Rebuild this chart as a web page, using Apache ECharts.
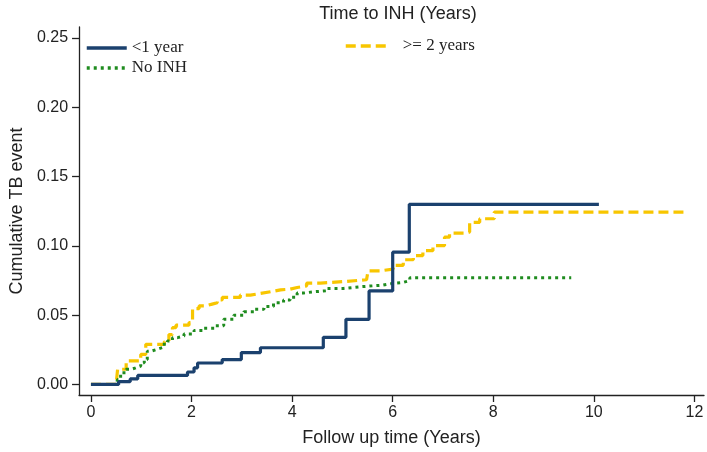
<!DOCTYPE html>
<html>
<head>
<meta charset="utf-8">
<script src="https://cdn.jsdelivr.net/npm/echarts@6/dist/echarts.min.js"></script>
<style>html,body{margin:0;padding:0;background:#fff}#c{width:707px;height:452px}</style>
</head>
<body>
<div id="c"></div>
<script>
// Series names
const seriesNames = ['<1 year', 'No INH', '>= 2 years'];
// Tick labels
const xTicks = [0, 2, 4, 6, 8, 10, 12];
const yTicks = [0, 0.05, 0.10, 0.15, 0.20, 0.25];
// Kaplan-Meier style cumulative incidence: [time (years), cumulative event]
const lessThan1Year = [
  [0, 0], [0.55, 0.002], [0.78, 0.004], [0.93, 0.0065], [1.92, 0.009], [2.05, 0.012],
  [2.12, 0.0155], [2.61, 0.018], [2.99, 0.023], [3.37, 0.0265], [4.62, 0.034],
  [5.07, 0.047], [5.53, 0.0675], [6.0, 0.0955], [6.33, 0.130], [10.1, 0.130]
];
const noINH = [
  [0, 0], [0.5, 0], [0.53, 0.0036], [0.59, 0.0085], [0.7, 0.011], [0.8, 0.012],
  [0.89, 0.0133], [0.99, 0.0157], [1.06, 0.018], [1.12, 0.024], [1.19, 0.0254],
  [1.32, 0.0266], [1.42, 0.029], [1.52, 0.0314], [1.62, 0.0338], [1.72, 0.035],
  [1.85, 0.0365], [2.05, 0.039], [2.25, 0.0406], [2.45, 0.0423], [2.64, 0.047],
  [2.84, 0.05], [3.04, 0.0524], [3.24, 0.0543], [3.44, 0.0563], [3.63, 0.059],
  [3.83, 0.061], [3.96, 0.063], [4.1, 0.066], [4.23, 0.0669], [4.43, 0.0676],
  [4.69, 0.0693], [5.02, 0.0705], [5.35, 0.0712], [5.61, 0.0717], [5.81, 0.073],
  [6.01, 0.0737], [6.21, 0.075], [6.34, 0.077], [9.55, 0.077]
];
const twoYearsPlus = [
  [0, 0], [0.5, 0], [0.53, 0.011], [0.7, 0.017], [0.99, 0.0217], [1.09, 0.029],
  [1.46, 0.031], [1.55, 0.036], [1.62, 0.041], [1.69, 0.0428], [1.95, 0.0447],
  [2.02, 0.0548], [2.15, 0.0567], [2.28, 0.058], [2.41, 0.059], [2.51, 0.061],
  [2.61, 0.0628], [2.97, 0.0645], [3.17, 0.0657], [3.37, 0.0669], [3.57, 0.0683],
  [3.77, 0.0688], [3.96, 0.07], [4.1, 0.0712], [4.29, 0.0732], [4.56, 0.0744],
  [5.09, 0.0756], [5.48, 0.0766], [5.51, 0.082], [5.75, 0.0833], [6.01, 0.086],
  [6.21, 0.09], [6.41, 0.093], [6.6, 0.0966], [6.8, 0.1002], [7.03, 0.1063],
  [7.13, 0.1092], [7.46, 0.11], [7.53, 0.117], [7.73, 0.1196], [8.02, 0.1244],
  [11.85, 0.1244]
];

const colors = ['#1b416e', '#1f8c1f', '#f8c600'];
const sans = 'Liberation Sans, Arial, sans-serif';
const serif = 'Liberation Serif, Times New Roman, serif';
const hiddenSymbol = {color: 'rgba(0,0,0,0)', borderColor: 'rgba(0,0,0,0)', borderWidth: 0};
const legendLine = {width: 3.5};

const chart = echarts.init(document.getElementById('c'), null, {renderer: 'canvas'});
chart.setOption({
  animation: false,
  backgroundColor: '#ffffff',
  title: {
    text: 'Time to INH (Years)',
    left: 393, top: 0, textAlign: 'center',
    textStyle: {fontFamily: sans, fontSize: 18, fontWeight: 'normal', color: '#222'}
  },
  legend: [
    {
      data: [seriesNames[0], seriesNames[1]],
      orient: 'vertical', left: 85, top: 38, padding: 0,
      itemWidth: 40, itemHeight: 12, itemGap: 0,
      itemStyle: hiddenSymbol, lineStyle: legendLine,
      textStyle: {fontFamily: serif, fontSize: 17, color: '#222', lineHeight: 20}
    },
    {
      data: [seriesNames[2]],
      orient: 'vertical', left: 344, top: 36, padding: 0,
      itemWidth: 40, itemHeight: 12, itemGap: 0,
      itemStyle: hiddenSymbol, lineStyle: legendLine,
      textStyle: {fontFamily: serif, fontSize: 17, color: '#222', lineHeight: 20, padding: [0, 0, 0, 12]}
    }
  ],
  grid: {left: 74, right: 3, top: 27, bottom: 56, containLabel: false},
  xAxis: {
    type: 'value',
    min: -0.237, max: 12.19,
    name: 'Follow up time (Years)', nameLocation: 'middle', nameGap: 34,
    nameTextStyle: {fontFamily: sans, fontSize: 18, color: '#222'},
    axisLine: {show: true, onZero: false, lineStyle: {color: '#222', width: 1.3}},
    axisTick: {show: true, length: 7, customValues: xTicks, lineStyle: {color: '#222', width: 1.3}},
    axisLabel: {customValues: xTicks, margin: 10, fontFamily: sans, fontSize: 16, color: '#222'},
    splitLine: {show: false}
  },
  yAxis: {
    type: 'value',
    min: -0.0076, max: 0.258,
    name: 'Cumulative TB event', nameLocation: 'middle', nameGap: 48,
    nameTextStyle: {fontFamily: sans, fontSize: 18, color: '#222'},
    axisLine: {show: true, onZero: false, lineStyle: {color: '#222', width: 1.3}},
    axisTick: {show: true, length: 7, customValues: yTicks, lineStyle: {color: '#222', width: 1.3}},
    axisLabel: {customValues: yTicks, margin: 11, fontFamily: sans, fontSize: 16, color: '#222',
      formatter: v => v.toFixed(2)},
    splitLine: {show: false}
  },
  series: [
    {name: seriesNames[0], type: 'line', step: 'end', symbol: 'none', data: lessThan1Year,
     color: colors[0], lineStyle: {color: colors[0], width: 3.2}, z: 3},
    {name: seriesNames[1], type: 'line', step: 'end', symbol: 'none', data: noINH,
     color: colors[1], lineStyle: {color: colors[1], width: 3, type: [3, 4], cap: 'butt'}, z: 2},
    {name: seriesNames[2], type: 'line', step: 'end', symbol: 'none', data: twoYearsPlus,
     color: colors[2], lineStyle: {color: colors[2], width: 3.2, type: [10, 5], cap: 'butt'}, z: 1}
  ]
});
</script>
</body>
</html>
